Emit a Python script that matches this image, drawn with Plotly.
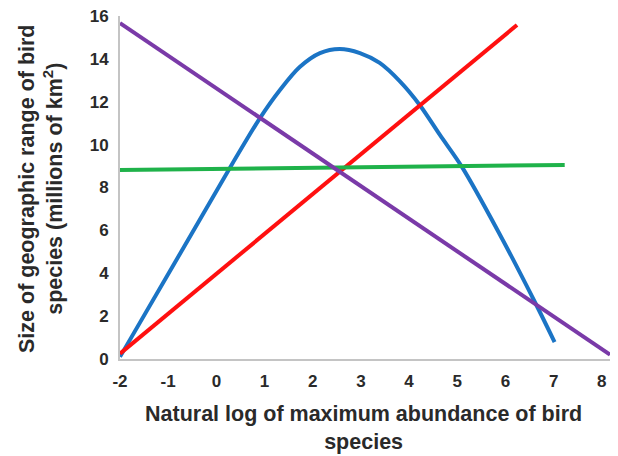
import plotly.graph_objects as go

# Data
blue_x = [-2.0, -0.86, 0.34, 0.905, 1.32, 1.73, 2.15, 2.56, 2.98, 3.39, 3.81, 4.22, 4.64, 5.10, 5.85, 6.61, 7.02]
blue_y = [0.1, 4.5, 9.14, 11.24, 12.55, 13.62, 14.27, 14.46, 14.27, 13.81, 12.95, 11.85, 10.45, 8.95, 5.95, 2.66, 0.79]

red_x = [-2.0, 6.24]
red_y = [0.25, 15.58]

green_x = [-2.0, 7.23]
green_y = [8.82, 9.05]

purple_x = [-2.0, 8.17]
purple_y = [15.67, 0.2]

x_ticks = [-2, -1, 0, 1, 2, 3, 4, 5, 6, 7, 8]
y_ticks = [0, 2, 4, 6, 8, 10, 12, 14, 16]

x_title = "Natural log of maximum abundance of bird<br>species"
y_title = "Size of geographic range of bird<br>species (millions of km<sup>2</sup>)"

FONT = "Liberation Sans"
TXT = "#2a2a2a"

fig = go.Figure()
fig.add_trace(go.Scatter(x=blue_x, y=blue_y, mode="lines",
                         line=dict(color="#1b74c5", width=4, shape="spline", smoothing=0.9)))
fig.add_trace(go.Scatter(x=red_x, y=red_y, mode="lines",
                         line=dict(color="#ff1010", width=4)))
fig.add_trace(go.Scatter(x=green_x, y=green_y, mode="lines",
                         line=dict(color="#1fb24a", width=4)))
fig.add_trace(go.Scatter(x=purple_x, y=purple_y, mode="lines",
                         line=dict(color="#7a3aa8", width=4)))

axis_common = dict(showgrid=False, zeroline=False, showline=True,
                   linecolor="#c4c4c4", linewidth=2, automargin=False,
                   ticks="outside", ticklen=6, tickcolor="rgba(0,0,0,0)",
                   tickfont=dict(size=17, color=TXT, family=FONT))

fig.update_layout(
    width=618, height=456,
    margin=dict(l=120, r=8, t=16, b=97, autoexpand=False),
    paper_bgcolor="white", plot_bgcolor="white",
    showlegend=False,
    font=dict(family=FONT, color=TXT),
    xaxis=dict(range=[-2, 8.17], tickvals=x_ticks,
               ticktext=[f"<b>{v}</b>" for v in x_ticks], **axis_common),
    yaxis=dict(range=[0, 16], tickvals=y_ticks,
               ticktext=[f"<b>{v}</b>" for v in y_ticks], **axis_common),
    annotations=[
        dict(text=f"<b>{x_title}</b>", xref="paper", yref="paper",
             x=(363 - 120) / 490, y=-(428 - 359) / 343, xanchor="center", yanchor="middle",
             showarrow=False, font=dict(size=21.5, color=TXT, family=FONT)),
        dict(text=f"<b>{y_title}</b>", xref="paper", yref="paper",
             x=-(120 - 41) / 490, y=(359 - 189) / 343, xanchor="center", yanchor="middle",
             textangle=-90, showarrow=False,
             font=dict(size=21.5, color=TXT, family=FONT)),
    ],
)

fig.write_html("out.html", post_script="document.body.style.margin='0px';",
               config={"displayModeBar": False})
